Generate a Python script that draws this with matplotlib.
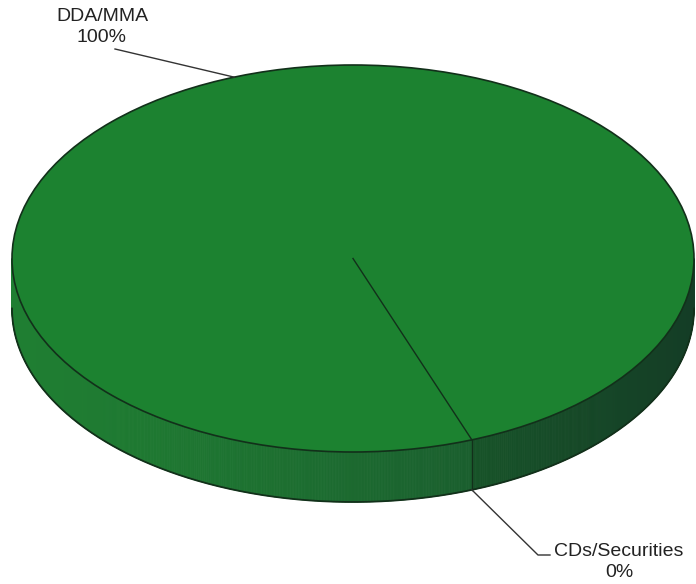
import numpy as np
import matplotlib
matplotlib.use("Agg")
import matplotlib.pyplot as plt
from matplotlib.patches import Ellipse
from matplotlib.collections import PolyCollection

# Portfolio composition
labels = ["DDA/MMA", "CDs/Securities"]
values = [100, 0]

plt.rcParams['font.family'] = ['Liberation Sans', 'DejaVu Sans']

W, H = 696, 584
fig = plt.figure(figsize=(W / 100, H / 100), dpi=100)
ax = fig.add_axes([0, 0, 1, 1])
ax.set_xlim(0, W)
ax.set_ylim(H, 0)
ax.axis("off")

# 3D pie geometry (screen pixels, y grows downward)
cx, cy, rx, ry, depth = 353, 258.5, 341, 193.5, 50
start_deg = 69.6  # first slice boundary, measured clockwise on screen

top_color = "#1c8230"
edge_color = "#12301a"

def pt(t_deg, dy=0.0):
    t = np.radians(t_deg)
    return cx + rx * np.cos(t), cy + ry * np.sin(t) + dy

# slice boundaries from the values
total = float(sum(values))
bounds = start_deg + np.concatenate([[0], np.cumsum(values)]) / total * 360.0
mids = (bounds[:-1] + bounds[1:]) / 2.0

# side wall (front half) with lighting falling off to the right
def side_shade(x):
    f = np.clip((x - (cx - rx)) / (2 * rx), 0, 1)
    light = np.array([0x1f, 0x7e, 0x32]) / 255.0
    mid = np.array([0x1a, 0x5e, 0x2e]) / 255.0
    dark = np.array([0x17, 0x45, 0x2b]) / 255.0
    if f < 0.68:
        g = (f / 0.68) ** 1.4
        return light * (1 - g) + mid * g
    g = (f - 0.68) / 0.32
    return mid * (1 - g) + dark * g

ts = np.linspace(0, 180, 721)
polys, cols = [], []
for a, b in zip(ts[:-1], ts[1:]):
    x1, y1 = pt(a)
    x2, y2 = pt(b)
    polys.append([(x1, y1), (x2, y2), (x2, y2 + depth), (x1, y1 + depth)])
    c = side_shade((x1 + x2) / 2)
    # wall to the right of the first boundary sits a touch darker
    if (a + b) / 2 < start_deg:
        c = c * 0.88
    cols.append(c)
ax.add_collection(PolyCollection(polys, facecolors=cols, edgecolors=cols, linewidths=0.6, zorder=1))

# bottom rim of the wall
bx = [pt(t, depth)[0] for t in ts]
by = [pt(t, depth)[1] for t in ts]
ax.plot(bx, by, color=edge_color, lw=1.3, zorder=3)

# top face
ax.add_patch(Ellipse((cx, cy), 2 * rx, 2 * ry, facecolor=top_color, edgecolor=edge_color, lw=1.2, zorder=2))

# slice boundaries on the top face and down the wall
for bd in np.unique(np.mod(bounds, 360).round(6)):
    x, y = pt(bd)
    ax.plot([cx, x], [cy, y], color=edge_color, lw=1.0, zorder=4)
    if 0 <= bd <= 180:
        ax.plot([x, x], [y, y + depth], color=edge_color, lw=1.0, zorder=4)

# labels with leader lines
txt_kw = dict(fontsize=14, color="#222222", ha="center", va="center", multialignment="center",
              linespacing=1.3, zorder=5)

# first slice: leader from the top rim at its mid-angle
x0, y0 = pt(mids[0])
ax.plot([x0, 115], [y0, 49], color="#333333", lw=1.0, zorder=5)
ax.text(102, 27, f"{labels[0]}\n{values[0]:.0f}%", **txt_kw)

# second slice: leader from the bottom of the wall
x1, y1 = pt(mids[1], depth)
ax.plot([x1, 538, 550], [y1, 555, 555], color="#333333", lw=1.0, zorder=5)
ax.text(619, 562, f"{labels[1]}\n{values[1]:.0f}%", **txt_kw)

fig.savefig("out.png", dpi=100)
